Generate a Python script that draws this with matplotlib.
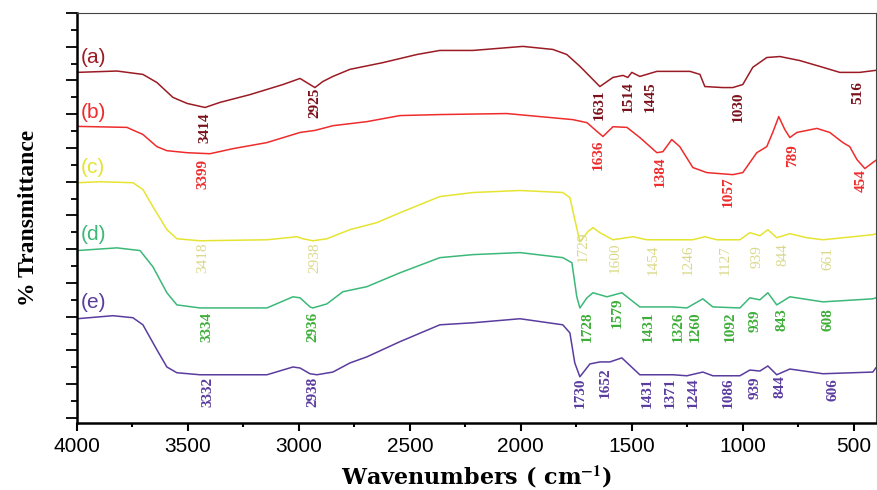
import numpy as np
import matplotlib.pyplot as plt

plt.rcParams['mathtext.fontset'] = 'stix'

# wavenumbers (cm-1) and offset transmittance for each spectrum
wn_a = [4000, 3820, 3703, 3640, 3568, 3504, 3423, 3356, 3221, 3072, 2995, 2928, 2892, 2847,
        2770, 2621, 2468, 2365, 2216, 1991, 1856, 1793, 1734, 1644, 1585, 1540, 1518, 1500,
        1464, 1387, 1238, 1193, 1171, 1090, 1045, 1000, 955, 892, 833, 743, 639, 563, 473, 401]
t_a = [10.24, 10.28, 10.18, 9.94, 9.50, 9.32, 9.20, 9.35, 9.58, 9.88, 10.06, 9.79, 9.97, 10.12,
       10.33, 10.53, 10.77, 10.89, 10.89, 11.01, 10.92, 10.77, 10.42, 9.82, 10.09, 10.15, 10.09, 10.24,
       10.12, 10.27, 10.27, 10.18, 9.82, 9.79, 9.79, 9.88, 10.39, 10.68, 10.71, 10.59, 10.39, 10.24, 10.24, 10.30]

wn_b = [4000, 3775, 3703, 3640, 3595, 3504, 3401, 3297, 3144, 2995, 2928, 2847, 2694, 2545,
        2365, 2063, 1766, 1702, 1657, 1630, 1585, 1522, 1464, 1387, 1360, 1320, 1284, 1225,
        1162, 1045, 1000, 937, 892, 865, 838, 811, 788, 756, 666, 608, 549, 518, 486, 450, 414, 401]
t_b = [8.64, 8.61, 8.40, 8.04, 7.92, 7.86, 7.83, 7.98, 8.16, 8.46, 8.52, 8.66, 8.78, 8.96,
       8.99, 9.02, 8.84, 8.75, 8.49, 8.34, 8.63, 8.61, 8.31, 7.86, 7.89, 8.25, 8.04, 7.42,
       7.27, 7.21, 7.27, 7.86, 8.04, 8.46, 8.93, 8.55, 8.31, 8.46, 8.58, 8.46, 8.16, 8.04, 7.66, 7.39, 7.57, 7.63]

wn_c = [4000, 3896, 3748, 3703, 3658, 3595, 3550, 3446, 3144, 3009, 2982, 2937, 2874, 2770,
        2648, 2545, 2365, 2216, 2004, 1811, 1779, 1757, 1734, 1698, 1675, 1644, 1585, 1495,
        1432, 1225, 1171, 1117, 1013, 968, 923, 887, 847, 788, 711, 639, 414, 401]
t_c = [6.97, 7.00, 6.97, 6.77, 6.26, 5.58, 5.31, 5.25, 5.28, 5.37, 5.31, 5.25, 5.31, 5.58,
       5.79, 6.08, 6.56, 6.68, 6.74, 6.68, 6.53, 5.88, 5.22, 5.52, 5.64, 5.49, 5.28, 5.37,
       5.28, 5.28, 5.37, 5.28, 5.28, 5.49, 5.40, 5.58, 5.34, 5.46, 5.34, 5.28, 5.43, 5.46]

wn_d = [4000, 3820, 3716, 3658, 3595, 3550, 3446, 3144, 3027, 2995, 2950, 2937, 2874, 2802,
        2694, 2545, 2365, 2216, 2004, 1811, 1770, 1748, 1734, 1702, 1675, 1612, 1545, 1464,
        1315, 1252, 1180, 1135, 1013, 968, 923, 887, 847, 788, 639, 414, 401]
t_d = [4.96, 5.04, 4.96, 4.48, 3.71, 3.35, 3.26, 3.26, 3.59, 3.56, 3.29, 3.26, 3.38, 3.74,
       3.89, 4.30, 4.75, 4.84, 4.90, 4.75, 4.60, 3.59, 3.26, 3.56, 3.71, 3.59, 3.71, 3.29,
       3.29, 3.26, 3.53, 3.29, 3.26, 3.56, 3.50, 3.71, 3.35, 3.59, 3.44, 3.53, 3.56]

wn_e = [4000, 3838, 3748, 3703, 3640, 3595, 3550, 3446, 3144, 3027, 2995, 2950, 2919, 2847,
        2770, 2694, 2545, 2365, 2216, 2004, 1811, 1779, 1757, 1734, 1689, 1644, 1599, 1545,
        1464, 1315, 1252, 1180, 1135, 1013, 968, 923, 887, 847, 788, 639, 414, 401]
t_e = [2.94, 3.03, 2.97, 2.76, 2.02, 1.51, 1.34, 1.28, 1.28, 1.51, 1.48, 1.31, 1.28, 1.36,
       1.63, 1.81, 2.26, 2.76, 2.82, 2.94, 2.76, 2.52, 1.63, 1.22, 1.60, 1.66, 1.66, 1.78,
       1.28, 1.28, 1.25, 1.36, 1.25, 1.25, 1.42, 1.39, 1.54, 1.28, 1.45, 1.31, 1.36, 1.48]

# peak labels: text, where the label sits along x, height of its top
peaks_a = [3414, 2925, 1631, 1514, 1445, 1030, 516]
px_a = [3423, 2928, 1648, 1518, 1419, 1022, 482]
ptop_a = [9.05, 9.79, 9.73, 9.97, 9.97, 9.67, 9.97]
peaks_b = [3399, 1636, 1384, 1057, 789, 454]
px_b = [3432, 1653, 1374, 1067, 774, 464]
ptop_b = [7.66, 8.25, 7.74, 7.15, 8.10, 7.36]
peaks_c = [3418, 2938, 1729, 1600, 1454, 1246, 1127, 939, 844, 661]
px_c = [3432, 2928, 1720, 1576, 1405, 1247, 1081, 937, 819, 617]
ptop_c = [5.19, 5.19, 5.52, 5.19, 5.13, 5.13, 5.13, 5.13, 5.19, 5.07]
peaks_d = [3334, 2936, 1728, 1579, 1431, 1326, 1260, 1092, 939, 843, 608]
px_d = [3414, 2937, 1702, 1567, 1428, 1293, 1216, 1058, 946, 824, 617]
ptop_d = [3.15, 3.15, 3.15, 3.56, 3.15, 3.15, 3.15, 3.15, 3.20, 3.26, 3.26]
peaks_e = [3332, 2938, 1730, 1652, 1431, 1371, 1244, 1086, 939, 844, 606]
px_e = [3410, 2937, 1734, 1621, 1432, 1328, 1225, 1067, 946, 833, 594]
ptop_e = [1.22, 1.22, 1.19, 1.51, 1.19, 1.19, 1.19, 1.19, 1.22, 1.28, 1.19]

names = ['(a)', '(b)', '(c)', '(d)', '(e)']
name_y = [10.68, 9.05, 7.42, 5.43, 3.41]

line_colors = ['#9b1b24', '#ee2c2c', '#e6e432', '#3cb879', '#5a3c9e']
text_colors = ['#7a1019', '#ee2c2c', '#d9d98a', '#3fae3a', '#5a3c9e']


def plot_spectra():
    fig = plt.figure(figsize=(8.77, 4.90), dpi=100)
    ax = fig.add_axes([0.0878, 0.1367, 0.911, 0.8368])

    spectra = [(wn_a, t_a), (wn_b, t_b), (wn_c, t_c), (wn_d, t_d), (wn_e, t_e)]
    for (w, t), c in zip(spectra, line_colors):
        ax.plot(w, t, color=c, lw=1.1)

    labels = [(peaks_a, px_a, ptop_a), (peaks_b, px_b, ptop_b), (peaks_c, px_c, ptop_c),
              (peaks_d, px_d, ptop_d), (peaks_e, px_e, ptop_e)]
    for i, (pk, xs, top) in enumerate(labels):
        weight = 'normal' if i == 2 else 'bold'
        for p, x, y in zip(pk, xs, top):
            ax.text(x, y, str(p), rotation=90, ha='center', va='top', fontsize=11,
                    family='Liberation Serif', weight=weight, color=text_colors[i])

    for n, y, c in zip(names, name_y, line_colors):
        ax.text(3985, y, n, ha='left', va='center', fontsize=15, family='Liberation Sans', color=c)

    ax.set_xlim(4000, 400)
    ax.set_ylim(-0.15, 12.0)
    ax.set_xticks([4000, 3500, 3000, 2500, 2000, 1500, 1000, 500])
    ax.set_xticks(np.arange(3750, 400, -500), minor=True)
    ax.set_yticks(np.arange(0, 12.5, 1))
    ax.set_yticks(np.arange(0.5, 12, 1), minor=True)
    ax.set_yticklabels([])
    ax.tick_params(axis='x', which='major', length=6, width=1.5, labelsize=15, pad=4)
    ax.tick_params(axis='x', which='minor', length=3, width=1.5)
    ax.tick_params(axis='y', which='major', length=8, width=1.3)
    ax.tick_params(axis='y', which='minor', length=4, width=1.3)
    for lab in ax.get_xticklabels():
        lab.set_family('Liberation Sans')

    ax.spines['left'].set_linewidth(1.8)
    ax.spines['bottom'].set_linewidth(1.8)
    ax.spines['top'].set_linewidth(0.8)
    ax.spines['right'].set_linewidth(0.8)
    ax.spines['top'].set_color('#444444')
    ax.spines['right'].set_color('#444444')

    ax.set_xlabel(r'Wavenumbers ( cm$^{\mathbf{-1}}$)', family='DejaVu Serif', weight='bold',
                  fontsize=16, labelpad=6)
    ax.set_ylabel('% Transmittance', family='Liberation Serif', weight='bold', fontsize=17, labelpad=16)

    fig.savefig('out.png', dpi=100)


def main():
    plot_spectra()


main()
